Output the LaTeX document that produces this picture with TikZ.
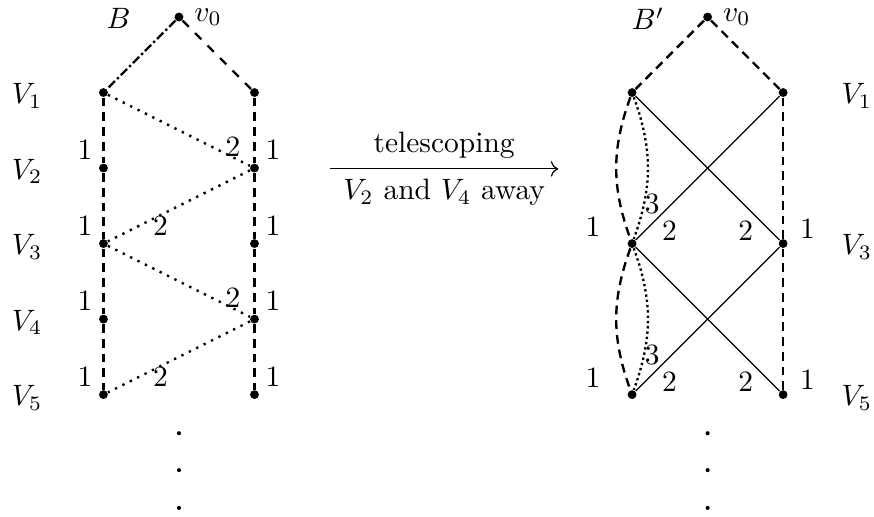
\documentclass[tikz,border=0pt]{standalone}
\usepackage{amsmath,amssymb}
\usepackage{tikz}
\usetikzlibrary{arrows.meta,positioning}
\tikzset{
  vvert/.style={circle,fill=black,inner sep=0pt,minimum size=3pt},
  vdot/.style={circle,fill=black,inner sep=0pt,minimum size=1.4pt},
  vdash/.style={line width=0.8pt,densely dashed},
  vlong/.style={line width=0.8pt,dashed},
  vdashdot/.style={line width=0.8pt,densely dash dot},
  vdotted/.style={line width=0.8pt,dotted},
  vfine/.style={line width=0.8pt,densely dotted},
  vline/.style={line width=0.4pt},
  varr/.style={->,line width=0.4pt}
}

\begin{document}
\begin{tikzpicture}
  \useasboundingbox (-2.133,0.203) rectangle (8.283,-5.947);
  % graph B
  \node[vvert,label=right:$v_0$] (v0) at (0,0) {};
  \node (b) at (-0.72,-0.02) {$B$};
  \node[vvert] (l1) at (-0.9,-0.9) {};
  \node[vvert] (l2) at (-0.9,-1.8) {};
  \node[vvert] (l3) at (-0.9,-2.7) {};
  \node[vvert] (l4) at (-0.9,-3.6) {};
  \node[vvert] (l5) at (-0.9,-4.5) {};
  \node[vvert] (r1) at (0.9,-0.9) {};
  \node[vvert] (r2) at (0.9,-1.8) {};
  \node[vvert] (r3) at (0.9,-2.7) {};
  \node[vvert] (r4) at (0.9,-3.6) {};
  \node[vvert] (r5) at (0.9,-4.5) {};
  \node (lv1) at (-1.81,-0.94) {$V_1$};
  \node (lv2) at (-1.81,-1.84) {$V_2$};
  \node (lv3) at (-1.81,-2.74) {$V_3$};
  \node (lv4) at (-1.81,-3.64) {$V_4$};
  \node (lv5) at (-1.81,-4.54) {$V_5$};
  \draw[vdashdot] (v0) -- (l1);
  \draw[vlong] (v0) -- (r1);
  \draw[vdash] (l1) -- node[pos=.8,left] {1} (l2);
  \draw[vdash] (l2) -- node[pos=.8,left] {1} (l3);
  \draw[vdash] (l3) -- node[pos=.8,left] {1} (l4);
  \draw[vdash] (l4) -- node[pos=.8,left] {1} (l5);
  \draw[vdash] (r1) -- node[pos=.8,right] {1} (r2);
  \draw[vdash] (r2) -- node[pos=.8,right] {1} (r3);
  \draw[vdash] (r3) -- node[pos=.8,right] {1} (r4);
  \draw[vdash] (r4) -- node[pos=.8,right] {1} (r5);
  \draw[vdotted] (l1) -- node[pos=.88,above,inner sep=0pt] {2} (r2);
  \draw[vdotted] (r2) -- node[pos=.63,below,inner sep=0pt] {2} (l3);
  \draw[vdotted] (l3) -- node[pos=.88,above,inner sep=0pt] {2} (r4);
  \draw[vdotted] (r4) -- node[pos=.63,below,inner sep=0pt] {2} (l5);
  \node[vdot] (d1) at (0,-4.96) {};
  \node[vdot] (d2) at (0,-5.40) {};
  \node[vdot] (d3) at (0,-5.85) {};

  % telescoping step
  \coordinate (ta) at (1.8,-1.81);
  \coordinate (tb) at (4.52,-1.81);
  \draw[varr] (ta) -- node[above] {telescoping} node[below] {$V_2$ and $V_4$ away} (tb);

  % graph B'
  \node[vvert,label=right:$v_0$] (w0) at (6.3,0) {};
  \node (bb) at (5.59,-0.02) {$B'$};
  \node[vvert] (p1) at (5.4,-0.9) {};
  \node[vvert] (p3) at (5.4,-2.7) {};
  \node[vvert] (p5) at (5.4,-4.5) {};
  \node[vvert] (q1) at (7.2,-0.9) {};
  \node[vvert] (q3) at (7.2,-2.7) {};
  \node[vvert] (q5) at (7.2,-4.5) {};
  \node (rv1) at (8.08,-0.94) {$V_1$};
  \node (rv3) at (8.08,-2.74) {$V_3$};
  \node (rv5) at (8.08,-4.54) {$V_5$};
  \draw[vdash] (w0) -- (p1);
  \draw[vdash] (w0) -- (q1);
  \draw[vdash] (q1) -- node[pos=.93,right=2pt] {1} (q3);
  \draw[vdash] (q3) -- node[pos=.93,right=2pt] {1} (q5);
  \draw[vdash] (p1) to[bend right=20] node[pos=.92,left=5pt] {1} (p3);
  \draw[vdash] (p3) to[bend right=20] node[pos=.92,left=5pt] {1} (p5);
  \draw[vfine] (p1) to[bend left=20] node[pos=.86,above right,inner sep=1pt] {3} (p3);
  \draw[vfine] (p3) to[bend left=20] node[pos=.86,above right,inner sep=1pt] {3} (p5);
  \draw[vline] (p1) -- node[pos=.84,below left,inner sep=1pt] {2} (q3);
  \draw[vline] (q1) -- node[pos=.84,below right,inner sep=1pt] {2} (p3);
  \draw[vline] (p3) -- node[pos=.84,below left,inner sep=1pt] {2} (q5);
  \draw[vline] (q3) -- node[pos=.84,below right,inner sep=1pt] {2} (p5);
  \node[vdot] (e1) at (6.3,-4.96) {};
  \node[vdot] (e2) at (6.3,-5.40) {};
  \node[vdot] (e3) at (6.3,-5.85) {};
\end{tikzpicture}
\end{document}
